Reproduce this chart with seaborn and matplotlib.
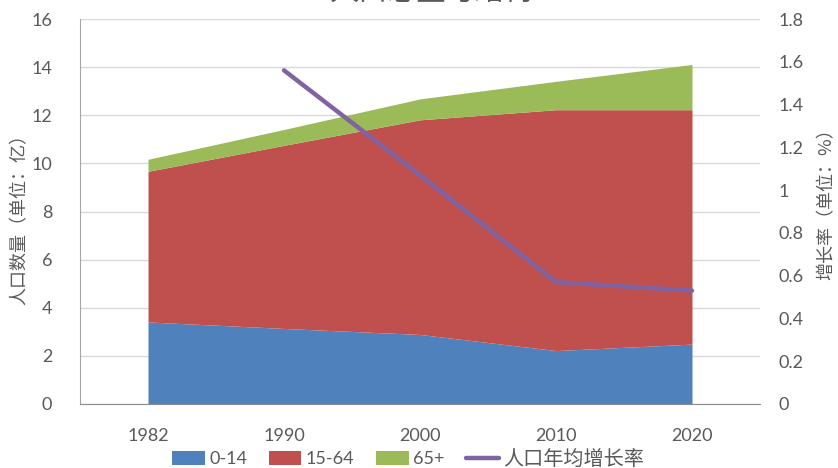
import matplotlib
matplotlib.use("Agg")
import matplotlib.pyplot as plt
from matplotlib.patches import Patch
from matplotlib.lines import Line2D
import numpy as np
import pandas as pd
import seaborn as sns

# data
years = ["1982", "1990", "2000", "2010", "2020"]
age_0_14 = [3.41, 3.14, 2.89, 2.22, 2.49]
age_15_64 = [6.26, 7.61, 8.92, 10.01, 9.74]
age_65_plus = [0.50, 0.66, 0.87, 1.18, 1.88]
growth_rate = [np.nan, 1.56, 1.07, 0.57, 0.53]

series_names = ["0-14", "15-64", "65+"]
line_name = "人口年均增长率"
colors = ["#4F81BD", "#C0504D", "#9BBB59"]
line_color = "#8064A2"
text_color = "#595959"
cjk = ["Noto Sans CJK SC", "DejaVu Sans"]

sns.set_style("white")
plt.rcParams["font.family"] = ["Lato", "Noto Sans CJK SC", "DejaVu Sans"]

fig = plt.figure(figsize=(8.38, 4.68), dpi=100)
ax = fig.add_axes([80 / 838, 1 - 404 / 468, 680 / 838, 385 / 468])

x = np.arange(len(years))
ax.stackplot(x, age_0_14, age_15_64, age_65_plus, colors=colors, linewidth=0, zorder=2)
ax.set_xlim(-0.5, len(years) - 0.5)
ax.set_ylim(0, 16)
ax.set_yticks(range(0, 17, 2))
ax.set_xticks(x)
ax.set_xticklabels(years)
ax.yaxis.grid(True, color="#D9D9D9", linewidth=1, zorder=0)
ax.set_axisbelow(True)
ax.tick_params(axis="x", length=0, labelsize=13, colors=text_color, pad=17)
ax.tick_params(axis="y", length=0, labelsize=13, colors=text_color, pad=20)
ax.set_ylabel("人口数量（单位：亿）", fontsize=13, color=text_color, family=cjk)
ax.yaxis.set_label_coords(-52 / 680, 0.49)
for side in ["top", "right"]:
    ax.spines[side].set_visible(False)
ax.spines["left"].set_color("#A6A6A6")
ax.spines["bottom"].set_color("#8C8C8C")

ax2 = ax.twinx()
df = pd.DataFrame({"x": x, "rate": growth_rate})
sns.lineplot(data=df, x="x", y="rate", ax=ax2, color=line_color, linewidth=3.2,
             solid_capstyle="round", zorder=5)
ax2.set_ylim(0, 1.8)
ax2.set_yticks(np.round(np.arange(0, 1.81, 0.2), 1))
ax2.set_yticklabels(["0", "0.2", "0.4", "0.6", "0.8", "1", "1.2", "1.4", "1.6", "1.8"])
ax2.set_xlim(-0.5, len(years) - 0.5)
ax2.set_xlabel("")
ax2.tick_params(axis="y", length=0, labelsize=13, colors=text_color, pad=13)
ax2.set_ylabel("增长率（单位：%）", fontsize=13, color=text_color, family=cjk, rotation=90)
ax2.yaxis.set_label_coords(738 / 680, 0.53)
for side in ["top", "right", "left", "bottom"]:
    ax2.spines[side].set_visible(False)

# title sits partly above the canvas in the reference
fig.text(432 / 838, 1 + 7 / 468, "人口总量与结构", ha="center", va="center",
         fontsize=21, color=text_color, family=cjk)

handles = [Patch(facecolor=c, edgecolor="none") for c in colors]
handles.append(Line2D([0], [0], color=line_color, linewidth=3.2))
leg = fig.legend(handles, series_names + [line_name], loc="center",
                 bbox_to_anchor=(408 / 838, 1 - 459 / 468), ncol=4, frameon=False,
                 fontsize=13, handlelength=1.8, handleheight=0.8, columnspacing=1.2,
                 handletextpad=0.25)
for t in leg.get_texts():
    t.set_color(text_color)
leg.get_texts()[-1].set_family(cjk)
leg.get_texts()[-1].set_fontsize(14.5)

fig.savefig("out.png", dpi=100)
